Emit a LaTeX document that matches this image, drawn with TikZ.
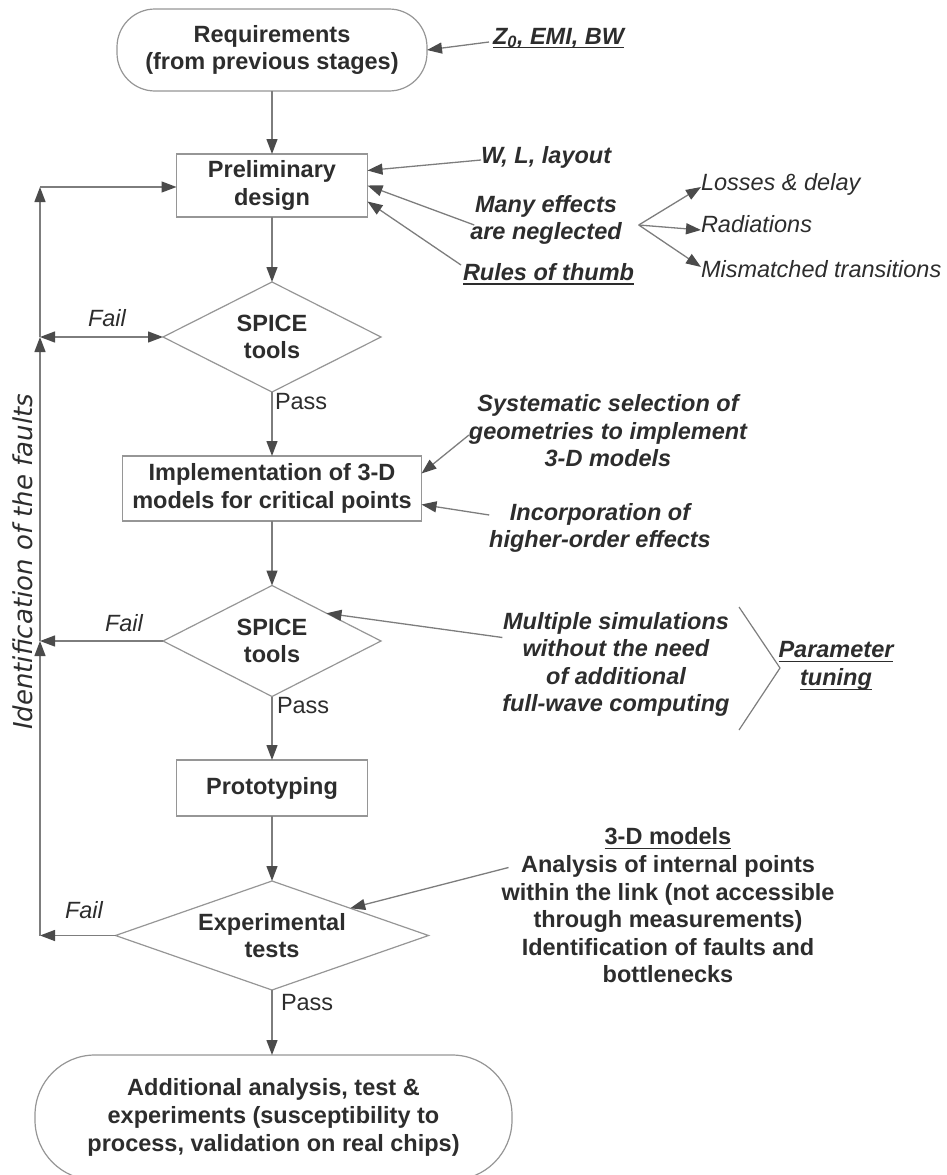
\documentclass[tikz,border=0pt]{standalone}
\usepackage{fontspec}
\setmainfont{Liberation Sans}
\newfontfamily\dvs{DejaVu Sans}
\usetikzlibrary{arrows.meta,shapes.geometric}
\definecolor{txt}{RGB}{45,45,45}
\definecolor{linec}{RGB}{125,125,125}
\definecolor{boxc}{RGB}{150,150,150}
\definecolor{tipc}{RGB}{75,75,75}
\newsavebox\ulbox
\newcommand\myul[1]{\sbox\ulbox{#1}\rlap{\rule[-4.5pt]{\wd\ulbox}{1.2pt}}\usebox\ulbox}
\newcommand\fs{\fontsize{23.5}{27.6}\selectfont}
\begin{document}
\begin{tikzpicture}[x=1pt,y=-1pt,
  every node/.style={text=txt, inner sep=0pt, outer sep=0pt},
  boxn/.style={draw=boxc, line width=1.2pt, fill=white, font=\fs\bfseries, align=center},
  rbox/.style={boxn, rectangle},
  term/.style={boxn, rectangle},
  dia/.style={boxn, diamond, aspect=2},
  lab/.style={font=\fs\bfseries\itshape, align=center},
  labu/.style={font=\fs\bfseries, align=center},
  labi/.style={font=\fs\itshape, align=left},
  pass/.style={font=\fs, anchor=west},
  fail/.style={font=\fs\itshape},
  conn/.style={draw=linec, line width=1.3pt, -{Triangle[length=15pt,width=11pt,color=tipc]}},
  conn2/.style={draw=linec, line width=1.3pt, {Triangle[length=15pt,width=11pt,color=tipc]}-{Triangle[length=15pt,width=11pt,color=tipc]}},
  plainline/.style={draw=linec, line width=1.2pt}
]
\useasboundingbox (0,0) rectangle (946,1175);
\clip (0,0) rectangle (946,1175);

% main flow
\node[term, rounded corners=38pt, minimum width=310pt, minimum height=82pt] (req) at (272,50) {Requirements\\(from previous stages)};
\node[rbox, minimum width=191pt, minimum height=63pt] (pre) at (272,185.5) {Preliminary\\design};
\node[dia, minimum width=218pt, minimum height=110pt] (d1) at (272,337) {SPICE\\tools};
\node[rbox, minimum width=299pt, minimum height=65pt] (imp) at (272,488.5) {Implementation of 3-D\\models for critical points};
\node[dia, minimum width=218pt, minimum height=111pt] (d2) at (272,641) {SPICE\\tools};
\node[rbox, minimum width=191pt, minimum height=56pt] (pro) at (272,788) {Prototyping};
\node[dia, aspect=2.9, minimum width=313pt, minimum height=109pt] (d3) at (272,935.5) {Experimental\\tests};
\node[term, rounded corners=60pt, minimum width=477pt, minimum height=125pt] (fin) at (273.5,1117.5) {Additional analysis, test \&\\experiments (susceptibility to\\process, validation on real chips)};

% labels
\node[lab, anchor=base west] (z0) at (493,44) {\myul{Z\textsubscript{0}, EMI, BW}};
\node[lab, anchor=base west] (wl) at (481,163) {W, L, layout};
\node[lab] (many) at (546,220) {Many effects\\are neglected};
\node[lab, anchor=base west] (rules) at (463,280) {\myul{Rules of thumb}};
\node[labi, anchor=base west] (los) at (701,190) {Losses \& delay};
\node[labi, anchor=base west] (rad) at (701,232) {Radiations};
\node[labi, anchor=base west] (mis) at (701,277) {Mismatched transitions};
\node[fail] (f1) at (107,318) {Fail};
\node[pass] (p1) at (275,402) {Pass};
\node[lab] (sys) at (608,431) {Systematic selection of\\geometries to implement\\3-D models};
\node[lab] (inc) at (600,528) {Incorporation of\\higher-order effects};
\node[fail] (f2) at (124,623) {Fail};
\node[lab] (mult) at (616,664.5) {Multiple simulations\\without the need\\of additional\\full-wave computing};
\node[lab] (par) at (836,666) {\myul{Parameter}\\\myul{tuning}};
\node[pass] (p2) at (277,706) {Pass};
\node[fail] (f3) at (84,910) {Fail};
\node[labu] (td) at (668,905.5) {\myul{3-D models}\\Analysis of internal points\\within the link (not accessible\\through measurements)\\Identification of faults and\\bottlenecks};
\node[pass] (p3) at (281,1003) {Pass};
\node[font=\dvs\itshape\fontsize{26}{30}\selectfont, rotate=90] (idf) at (23,562) {Identification of the faults};

% vertical flow connectors
\draw[conn] (req.south) -- (pre.north);
\draw[conn] (pre.south) -- (d1.north);
\draw[conn] (d1.south) -- (imp.north);
\draw[conn] (imp.south) -- (d2.north);
\draw[conn] (d2.south) -- (pro.north);
\draw[conn] (pro.south) -- (d3.north);
\draw[conn] (d3.south) -- (d3.south |- fin.north);

% side label arrows
\draw[conn] ([shift={(-4pt,2pt)}]z0.base west) -- (req.east);
\draw[conn] ([yshift=3pt]wl.base west) -- ([yshift=15pt]pre.east);
\draw[conn] ([shift={(4pt,-5pt)}]many.west) -- (pre.east);
\draw[conn] ([shift={(-2pt,15pt)}]rules.base west) -- ([yshift=-16pt]pre.east);
\coordinate (br) at ([shift={(17pt,-5pt)}]many.east);
\draw[conn] (br) -- ([yshift=3pt]los.base west);
\draw[conn] (br) -- ([yshift=2pt]rad.base west);
\draw[conn] (br) -- ([yshift=10pt]mis.base west);
\draw[conn] ([yshift=-4pt]sys.west) -- ([yshift=15pt]imp.east);
\draw[conn] ([yshift=13pt]inc.west) -- ([yshift=-16pt]imp.east);
\draw[conn] ([yshift=27pt]mult.west) -- (d2.north east);
\draw[conn] ([shift={(7pt,38pt)}]td.west) -- (d3.north east);

% bracket
\draw[plainline] (739,607) -- (780,668) -- (739,730);

% feedback loop
\coordinate (lx) at (40,187);
\draw[conn] (d3.west) -- (d3.west -| lx);
\draw[conn] (d3.west -| lx) -- (d2.west -| lx);
\draw[conn] (d2.west) -- (d2.west -| lx);
\draw[conn] (d2.west -| lx) -- (d1.west -| lx);
\draw[conn2] (d1.west -| lx) -- (d1.west);
\draw[conn] (d1.west -| lx) -- (lx);
\draw[conn] (lx) -- (lx -| pre.west);
\end{tikzpicture}
\end{document}
